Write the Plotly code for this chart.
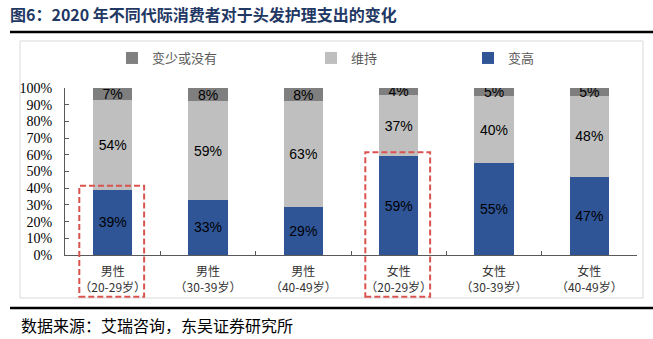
import plotly.graph_objects as go

categories = ["男性<br>（20-29岁）", "男性<br>（30-39岁）", "男性<br>（40-49岁）",
              "女性<br>（20-29岁）", "女性<br>（30-39岁）", "女性<br>（40-49岁）"]
higher = [39, 33, 29, 59, 55, 47]      # 变高
keep = [54, 59, 63, 37, 40, 48]        # 维持
lower = [7, 8, 8, 4, 5, 5]             # 变少或没有
highlight_idx = [0, 3]

W, H = 653, 339
L, R, T, B = 65, 16, 88, 84
PW, PH = W - L - R, H - T - B


def px(x):
    return (x - L) / PW


def py(y):
    return (H - B - y) / PH


CJK = "Noto Sans CJK SC"
fig = go.Figure()
series = [("变高", higher, "#2F5597", "legend3"),
          ("维持", keep, "#BFBFBF", "legend2"),
          ("变少或没有", lower, "#7F7F7F", "legend")]
for name, vals, color, lg in series:
    fig.add_trace(go.Bar(
        x=categories, y=vals, name=name, marker=dict(color=color, line=dict(width=0)),
        text=[f"{v}%" for v in vals], textposition="inside", insidetextanchor="middle",
        textangle=0, constraintext="none",
        textfont=dict(family="Liberation Sans, Arial", size=14, color="#000000"),
        legend=lg, hoverinfo="skip"))

shapes = []
# outer frame
shapes.append(dict(type="rect", xref="paper", yref="paper", x0=px(20), x1=px(643),
                   y0=py(41), y1=py(298), line=dict(color="#D9D9D9", width=1), layer="below"))
# title rule and bottom rule
shapes.append(dict(type="line", xref="paper", yref="paper", x0=px(10), x1=px(653),
                   y0=py(32), y1=py(32), line=dict(color="#000000", width=2.5)))
shapes.append(dict(type="line", xref="paper", yref="paper", x0=px(10), x1=px(653),
                   y0=py(308), y1=py(308), line=dict(color="#000000", width=2.5)))
# red dashed highlight boxes
n = len(categories)
for i in highlight_idx:
    shapes.append(dict(type="rect", xref="x domain", yref="y domain",
                       x0=(i + 0.5 - 0.35) / n, x1=(i + 0.5 + 0.33) / n,
                       y0=-0.25, y1=(higher[i] + 2.5) / 100,
                       line=dict(color="#D9534F", width=2, dash="6px,3px")))

annotations = [
    dict(text="图6：2020 年不同代际消费者对于头发护理支出的变化", xref="paper", yref="paper",
         x=px(8), y=py(14), xanchor="left", yanchor="middle", showarrow=False,
         font=dict(family=CJK, size=16, color="#1F3864", weight="bold")),
    dict(text="数据来源：艾瑞咨询，东吴证券研究所", xref="paper", yref="paper",
         x=px(19), y=py(325), xanchor="left", yanchor="middle", showarrow=False,
         font=dict(family=CJK, size=16, color="#000000")),
]

legend_common = dict(orientation="h", yref="paper", y=py(58), yanchor="middle",
                     xanchor="left", font=dict(family=CJK, size=13, color="#595959"),
                     bgcolor="rgba(0,0,0,0)", itemclick=False, itemdoubleclick=False)

fig.update_layout(
    width=W, height=H, margin=dict(l=L, r=R, t=T, b=B),
    paper_bgcolor="white", plot_bgcolor="white",
    barmode="stack", bargap=0.59,
    uniformtext=dict(mode="show", minsize=14),
    showlegend=True,
    legend=dict(x=px(112), **legend_common),
    legend2=dict(x=px(311), **legend_common),
    legend3=dict(x=px(468), **legend_common),
    shapes=shapes, annotations=annotations,
    xaxis=dict(type="category", range=[-0.5, n - 0.5], showline=True, linecolor="#595959",
               linewidth=1, ticks="inside", ticklen=4, tickcolor="#595959", tickson="boundaries",
               showgrid=False, ticklabelstandoff=6,
               tickfont=dict(family=CJK, size=12, color="#333333")),
    yaxis=dict(range=[0, 100], dtick=10, ticksuffix="%", showline=True, linecolor="#595959",
               linewidth=1, ticks="inside", ticklen=4, tickcolor="#595959", showgrid=False,
               zeroline=False, ticklabelstandoff=9,
               tickfont=dict(family="Liberation Serif, Times New Roman", size=14, color="#000000")),
)

fig.write_html("out.html")
